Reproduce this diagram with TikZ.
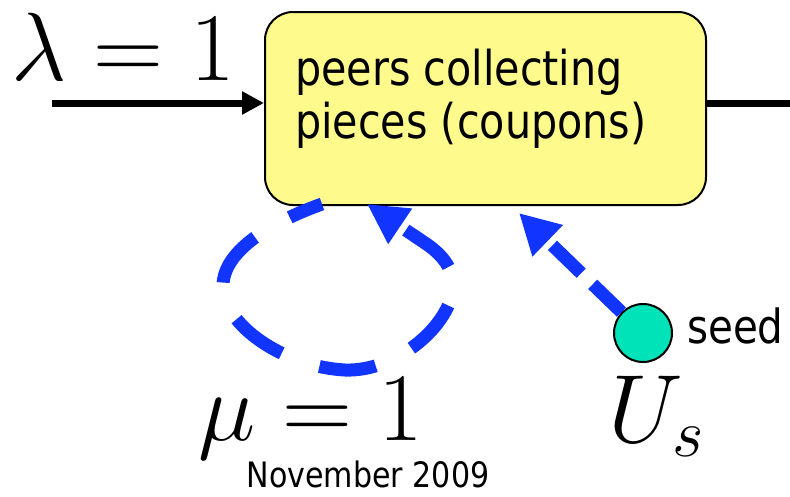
\RequirePackage{fix-cm}
\documentclass[tikz,border=0pt]{standalone}
\usepackage{fontspec}
\newfontfamily\labelfont[FakeStretch=0.86]{DejaVu Sans}
\usetikzlibrary{arrows.meta}
\definecolor{boxyellow}{RGB}{255,250,140}
\definecolor{loopblue}{RGB}{18,52,255}
\definecolor{seedteal}{RGB}{0,227,185}
\tikzset{
  mathlabel/.style={anchor=base west, inner sep=0pt, font=\fontsize{97}{110}\selectfont},
  boxtext/.style={anchor=base west, inner sep=0pt, font=\labelfont\fontsize{48}{53}\selectfont},
  flowbox/.style={draw=black, line width=2pt, fill=boxyellow, rounded corners=28pt,
    minimum width=441pt, minimum height=193pt, inner sep=0pt},
  seednode/.style={circle, draw=black, line width=2pt, fill=seedteal, minimum size=58pt, inner sep=0pt},
  flowline/.style={line width=7pt, draw=black},
  loopdash/.style={draw=loopblue, line width=13pt, dash pattern=on 57pt off 40pt, dash phase=22pt,
    -{Triangle[length=40pt,width=40pt]}},
  seeddash/.style={draw=loopblue, line width=13pt, dash pattern=on 40pt off 16pt,
    -{Triangle[length=40pt,width=41pt]}}
}
\begin{document}
\begin{tikzpicture}[x=1pt,y=-1pt]
  \useasboundingbox (0,0) rectangle (790,496);

  % central box
  \node[flowbox] (box) at (485.5,108.5) {};
  \node[boxtext] (line1) at (295,85) {peers collecting};
  \node[boxtext] (line2) at (295,138) {pieces (coupons)};

  % arrival and departure flows
  \coordinate (inflow) at (52,103);
  \coordinate (outflow) at (790,103);
  \draw[flowline, -{Triangle[length=22pt,width=22pt]}] (inflow) -- (box.west |- inflow);
  \draw[flowline] (box.east |- outflow) -- (outflow);

  % rate labels
  \node[mathlabel] (lambda) at (11,80) {$\lambda=1$};
  \node[mathlabel] (mu) at (198,440) {$\mu=1$};
  \node[mathlabel] (us) at (608,442) {$U_s$};

  % peer-to-peer exchange loop
  \coordinate (loopstart) at (322,204);
  \coordinate (loopend) at (367,204);
  \draw[loopdash] (loopstart)
    .. controls (272,222) and (224,250) .. (223,285)
    .. controls (222,325) and (285,367) .. (345,370)
    .. controls (400,372) and (455,320) .. (453,283)
    .. controls (452,266) and (440,253) .. (425,243)
    -- (loopend);

  % seed
  \node[seednode] (seed) at (643,333) {};
  \node[anchor=base west, inner sep=0pt, font=\labelfont\fontsize{47}{50}\selectfont] (seedlabel) at (687,343) {seed};
  \coordinate (seedtip) at (519,213);
  \draw[seeddash] (seed) -- (seedtip);

  % date
  \node[anchor=base, inner sep=0pt, font=\labelfont\fontsize{35}{40}\selectfont] (date) at (368,487) {November 2009};
\end{tikzpicture}
\end{document}
